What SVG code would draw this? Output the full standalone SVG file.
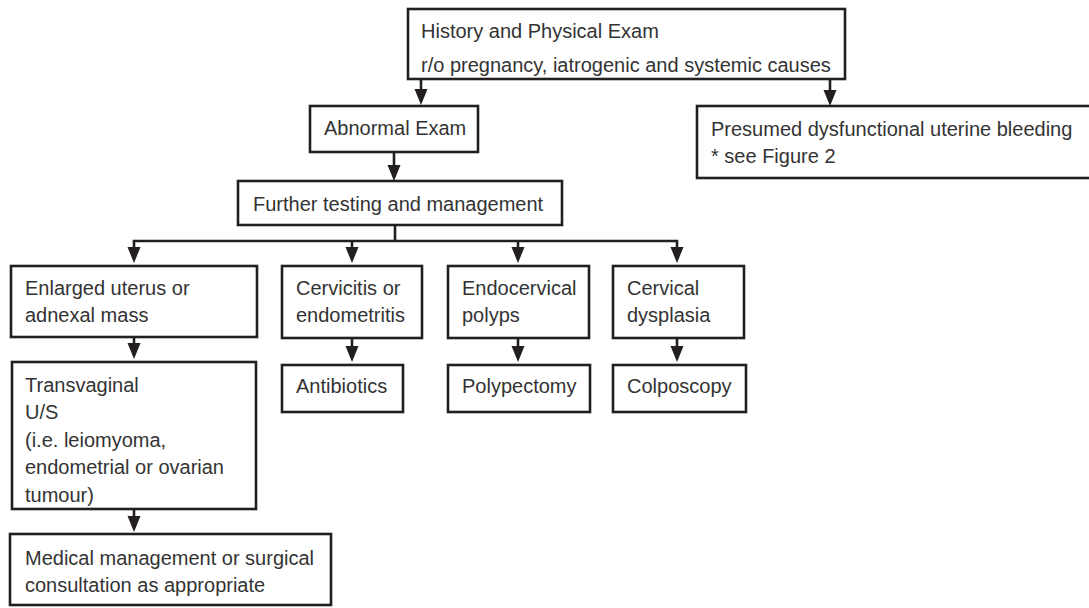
<svg xmlns="http://www.w3.org/2000/svg" width="1089" height="608" viewBox="0 0 1089 608">
  <style>
    .box { fill: #ffffff; stroke: #231f20; stroke-width: 2.6; }
    .lbl { font-family: "Liberation Sans", Arial, sans-serif; font-size: 20px; fill: #333333; }
    .conn { fill: none; stroke: #231f20; stroke-width: 2.6; }
  </style>
  <defs>
    <marker id="ah" markerUnits="userSpaceOnUse" markerWidth="17" markerHeight="14" refX="12" refY="6.5" orient="auto">
      <path d="M0,0 L16,6.5 L0,13 z" fill="#231f20"/>
    </marker>
  </defs>
  <rect width="1089" height="608" fill="#ffffff"/>

  <g id="connectors">
    <line class="conn" x1="421" y1="79" x2="421" y2="101" marker-end="url(#ah)"/>
    <line class="conn" x1="830" y1="79" x2="830" y2="102" marker-end="url(#ah)"/>
    <line class="conn" x1="394" y1="152" x2="394" y2="177" marker-end="url(#ah)"/>
    <polyline class="conn" points="395,225 395,241"/>
    <polyline class="conn" points="134,255 134,241 677,241 677,255"/>
    <line class="conn" x1="352" y1="241" x2="352" y2="259" marker-end="url(#ah)"/>
    <line class="conn" x1="518" y1="241" x2="518" y2="259" marker-end="url(#ah)"/>
    <line class="conn" x1="134" y1="248" x2="134" y2="259" marker-end="url(#ah)"/>
    <line class="conn" x1="677" y1="248" x2="677" y2="259" marker-end="url(#ah)"/>
    <line class="conn" x1="134" y1="337" x2="134" y2="355" marker-end="url(#ah)"/>
    <line class="conn" x1="352" y1="338" x2="352" y2="358" marker-end="url(#ah)"/>
    <line class="conn" x1="518" y1="338" x2="518" y2="358" marker-end="url(#ah)"/>
    <line class="conn" x1="677" y1="338" x2="677" y2="358" marker-end="url(#ah)"/>
    <line class="conn" x1="134" y1="509" x2="134" y2="528" marker-end="url(#ah)"/>
  </g>

  <g id="history">
    <rect class="box" x="408" y="9" width="437" height="70"/>
    <text class="lbl" x="421" y="38">History and Physical Exam</text>
    <text class="lbl" x="421" y="72">r/o pregnancy, iatrogenic and systemic causes</text>
  </g>
  <g id="presumed">
    <rect class="box" x="697" y="106" width="400" height="72"/>
    <text class="lbl" x="711" y="136">Presumed dysfunctional uterine bleeding</text>
    <text class="lbl" x="711" y="163">* see Figure 2</text>
  </g>
  <g id="abnormal">
    <rect class="box" x="310" y="106" width="168" height="46"/>
    <text class="lbl" x="324" y="135">Abnormal Exam</text>
  </g>
  <g id="further">
    <rect class="box" x="238" y="181" width="324" height="44"/>
    <text class="lbl" x="253" y="211">Further testing and management</text>
  </g>
  <g id="enlarged">
    <rect class="box" x="11" y="266" width="246" height="71"/>
    <text class="lbl" x="25" y="295">Enlarged uterus or</text>
    <text class="lbl" x="25" y="322">adnexal mass</text>
  </g>
  <g id="cervicitis">
    <rect class="box" x="282" y="266" width="140" height="72"/>
    <text class="lbl" x="296" y="295">Cervicitis or</text>
    <text class="lbl" x="296" y="322">endometritis</text>
  </g>
  <g id="endocervical">
    <rect class="box" x="448" y="266" width="141" height="72"/>
    <text class="lbl" x="462" y="295">Endocervical</text>
    <text class="lbl" x="462" y="322">polyps</text>
  </g>
  <g id="dysplasia">
    <rect class="box" x="613" y="266" width="131" height="72"/>
    <text class="lbl" x="627" y="295">Cervical</text>
    <text class="lbl" x="627" y="322">dysplasia</text>
  </g>
  <g id="transvaginal">
    <rect class="box" x="12" y="362" width="244" height="147"/>
    <text class="lbl" x="25" y="392">Transvaginal</text>
    <text class="lbl" x="25" y="419">U/S</text>
    <text class="lbl" x="25" y="447">(i.e. leiomyoma,</text>
    <text class="lbl" x="25" y="474">endometrial or ovarian</text>
    <text class="lbl" x="25" y="502">tumour)</text>
  </g>
  <g id="antibiotics">
    <rect class="box" x="282" y="365" width="121" height="47"/>
    <text class="lbl" x="296" y="393">Antibiotics</text>
  </g>
  <g id="polypectomy">
    <rect class="box" x="448" y="365" width="142" height="47"/>
    <text class="lbl" x="462" y="393">Polypectomy</text>
  </g>
  <g id="colposcopy">
    <rect class="box" x="613" y="365" width="133" height="47"/>
    <text class="lbl" x="627" y="393">Colposcopy</text>
  </g>
  <g id="medical">
    <rect class="box" x="10" y="534" width="321" height="71"/>
    <text class="lbl" x="25" y="565">Medical management or surgical</text>
    <text class="lbl" x="25" y="592">consultation as appropriate</text>
  </g>
</svg>
